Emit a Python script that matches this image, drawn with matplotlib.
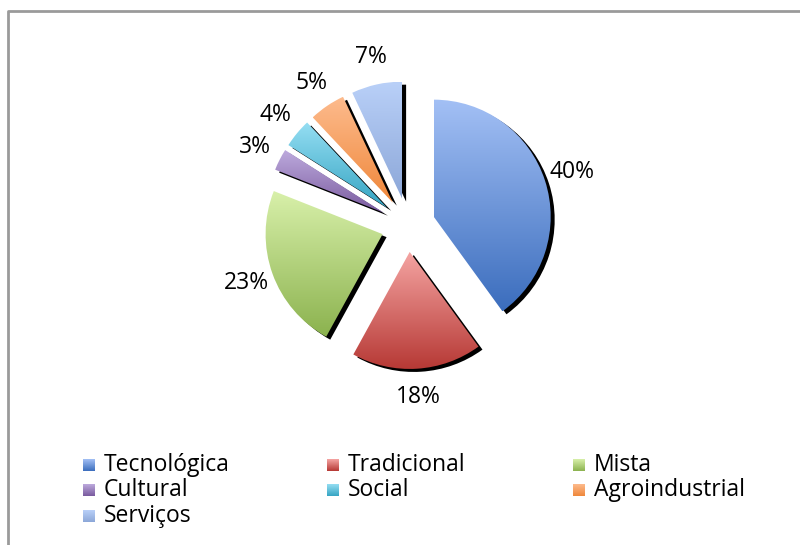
#!/usr/bin/env python3
"""
Exploded pie chart with gradient slices and a drop shadow
"""

import matplotlib
matplotlib.use("Agg")
import matplotlib.pyplot as plt
import numpy as np
from matplotlib.colors import to_rgb
from matplotlib.patches import Rectangle

categories = ["Tecnológica", "Tradicional", "Mista", "Cultural",
              "Social", "Agroindustrial", "Serviços"]
shares = [40, 18, 23, 3, 4, 5, 7]

# gradient colours (top, bottom) per slice
top_colors = ["#a3c0f5", "#f5a5a3", "#d8f0aa", "#bdaadd", "#95def3", "#fdbb8d", "#b9d0f8"]
bottom_colors = ["#3b6dbd", "#b63834", "#8bb24e", "#795a9e", "#35a4c2", "#ef873a", "#8ca7d8"]

W, H = 800, 545
CX, CY = 408, 225          # pie centre in pixels (from top)
R = 117
EXPLODE = 27
SHADOW = (4, 3)
FONT = "Open Sans"


def gradient_fill(ax, patch, top, bottom, zorder):
    """Fill a patch with a vertical gradient, light at top"""
    verts = patch.get_patch_transform().transform(patch.get_path().vertices)
    x0, y0 = verts.min(axis=0)
    x1, y1 = verts.max(axis=0)
    t = np.linspace(0, 1, 256)[:, None]
    c0 = np.array(to_rgb(bottom))
    c1 = np.array(to_rgb(top))
    img = (c0 + (c1 - c0) * t)[:, None, :]
    img = np.repeat(img, 2, axis=1)
    im = ax.imshow(img, extent=[x0, x1, y0, y1], origin="lower",
                   interpolation="bilinear", aspect="auto", zorder=zorder)
    im.set_clip_path(patch)


fig = plt.figure(figsize=(W / 100, H / 100), dpi=100)
ax = fig.add_axes([0, 0, 1, 1])

# shadow
ax.pie(shares, explode=[EXPLODE] * len(shares), radius=R,
       center=(CX + SHADOW[0], H - CY - SHADOW[1]), startangle=90,
       counterclock=False, colors=["black"] * len(shares),
       wedgeprops=dict(linewidth=0, zorder=1))

wedges, texts, autotexts = ax.pie(
    shares, explode=[EXPLODE] * len(shares), radius=R,
    center=(CX, H - CY), startangle=90, counterclock=False,
    autopct=lambda p: f"{p:.0f}%", pctdistance=1.24,
    wedgeprops=dict(linewidth=0, zorder=2),
    textprops=dict(fontsize=16.5, family=FONT, color="black"))

ax.set_xlim(0, W)
ax.set_ylim(0, H)
ax.set_aspect("auto")
ax.axis("off")

for w, top, bot in zip(wedges, top_colors, bottom_colors):
    w.set_facecolor("none")
    gradient_fill(ax, w, top, bot, zorder=3)

# legend, filled row by row like the original
col_x = [83, 327, 573]
row_y = [465, 490, 516]
box = 12
for i, (name, top, bot) in enumerate(zip(categories, top_colors, bottom_colors)):
    r, c = divmod(i, 3)
    x, y = col_x[c], H - row_y[r]
    sq = Rectangle((x, y - box / 2), box, box, facecolor="none", edgecolor="none")
    ax.add_patch(sq)
    gradient_fill(ax, sq, top, bot, zorder=3)
    ax.text(x + 21, y, name, fontsize=16.5, family=FONT, va="center", ha="left")

# chart frame
ax.plot([7.5, 7.5, W], [0, H - 11, H - 11], color="#9a9a9a", lw=2, zorder=5)

fig.savefig("out.png", dpi=100)
plt.close(fig)
print("Saved: out.png")
